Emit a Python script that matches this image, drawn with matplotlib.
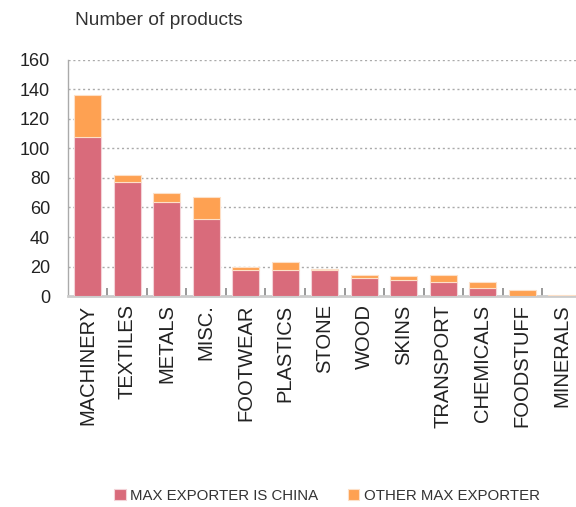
import matplotlib.pyplot as plt
import numpy as np
from matplotlib.ticker import MultipleLocator

plt.rcParams['font.family'] = ['Liberation Sans', 'DejaVu Sans']

categories = ['MACHINERY', 'TEXTILES', 'METALS', 'MISC.', 'FOOTWEAR', 'PLASTICS', 'STONE',
              'WOOD', 'SKINS', 'TRANSPORT', 'CHEMICALS', 'FOODSTUFF', 'MINERALS']
china = [108, 77, 64, 52, 18, 18, 18, 12.5, 11, 9.7, 5.4, 0, 0]
other = [28, 5, 6, 15, 1.7, 5, 0.3, 2, 2.3, 4.8, 4.1, 4.3, 1]

china_color = '#d96b7b'
other_color = '#fea152'

fig = plt.figure(figsize=(5.76, 5.07), dpi=100)
ax = fig.add_axes([0.118, 0.416, 0.882, 0.466])

x = np.arange(len(categories))
ax.bar(x, china, width=0.68, color=china_color, edgecolor='#f3d3d8', linewidth=0.8,
       label='MAX EXPORTER IS CHINA', zorder=3)
ax.bar(x, other, width=0.68, bottom=china, color=other_color, edgecolor='#fde0c8',
       linewidth=0.8, label='OTHER MAX EXPORTER', zorder=3)

ax.set_ylim(0, 160)
ax.set_xlim(-0.5, 12.36)
ax.yaxis.set_major_locator(MultipleLocator(20))
ax.grid(axis='y', linestyle=(0, (1.5, 2)), color='#aaaaaa', linewidth=1, zorder=0)

ax.set_xticks(x)
ax.set_xticklabels(categories, rotation=90, fontsize=14.5, color='#222222')
ax.set_xticks(x[:-1] + 0.5, minor=True)
ax.tick_params(axis='x', which='major', length=0, pad=6)
ax.tick_params(axis='x', which='minor', direction='in', length=6, width=1.2, color='#888888')
ax.tick_params(axis='y', length=0, pad=13, labelsize=13, labelcolor='#222222')

for s in ['top', 'right']:
    ax.spines[s].set_visible(False)
ax.spines['left'].set_color('#aaaaaa')
ax.spines['left'].set_linewidth(1)
ax.spines['bottom'].set_color('#cccccc')
ax.spines['bottom'].set_linewidth(2)

fig.text(0.13, 0.96, 'Number of products', fontsize=13.8, color='#333333', va='center')

handles, labels = ax.get_legend_handles_labels()
fig.legend(handles, labels, loc='center', bbox_to_anchor=(0.568, 0.022), ncol=2, frameon=False,
           fontsize=10.8, handlelength=0.75, handleheight=0.75, handletextpad=0.3,
           columnspacing=2.0, labelcolor='#333333')

fig.savefig('out.png', dpi=100)
